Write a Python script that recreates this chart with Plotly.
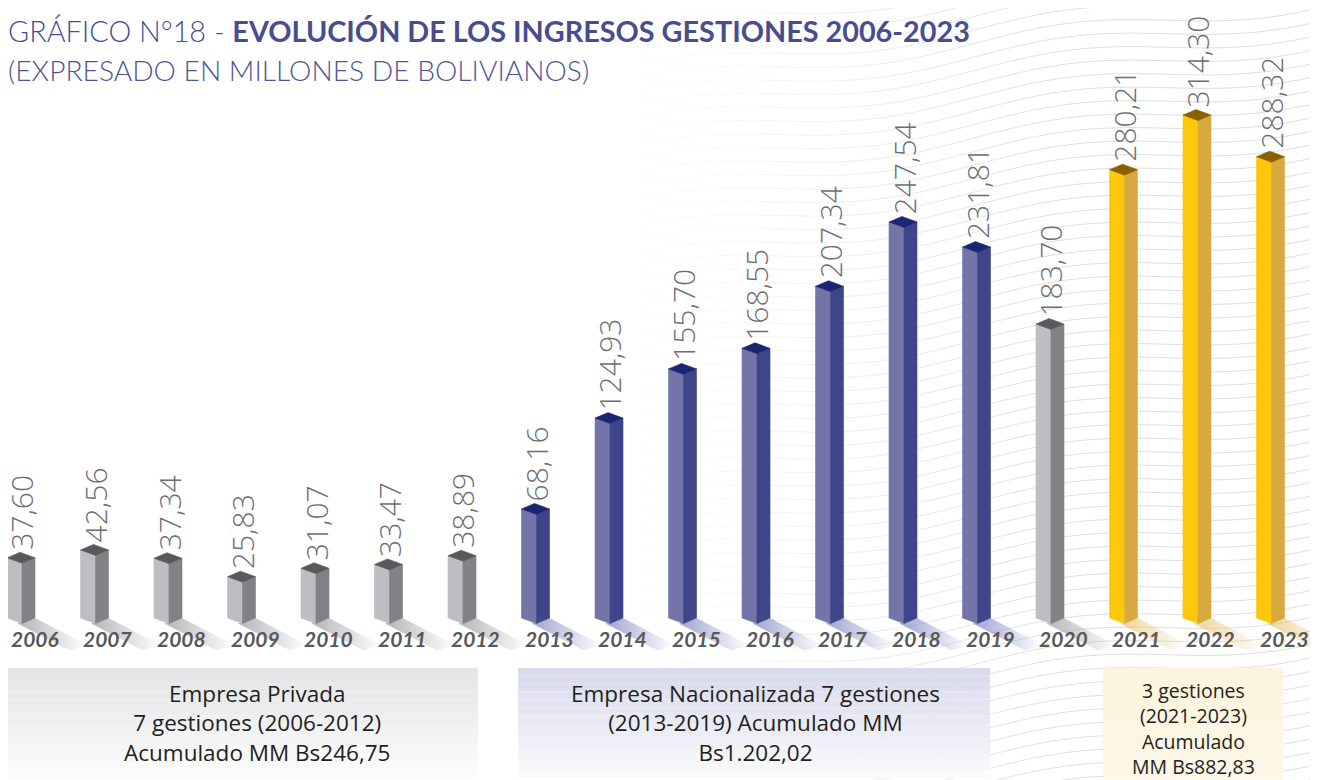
import math
import plotly.graph_objects as go

# ---------------- data ----------------
years = ["2006", "2007", "2008", "2009", "2010", "2011", "2012", "2013", "2014",
         "2015", "2016", "2017", "2018", "2019", "2020", "2021", "2022", "2023"]
values = [37.60, 42.56, 37.34, 25.83, 31.07, 33.47, 38.89, 68.16, 124.93,
          155.70, 168.55, 207.34, 247.54, 231.81, 183.70, 280.21, 314.30, 288.32]
groups = ["gris"] * 7 + ["azul"] * 7 + ["gris"] + ["oro"] * 3

box_texts = [
    ["Empresa Privada", "7 gestiones (2006-2012)", "Acumulado MM Bs246,75"],
    ["Empresa Nacionalizada 7 gestiones", "(2013-2019) Acumulado MM", "Bs1.202,02"],
    ["3 gestiones", "(2021-2023)", "Acumulado", "MM Bs882,83"],
]

# ---------------- style ----------------
OFF = 8                      # page body margin
W, H = 1318 - OFF, 780 - OFF
palette = {
    "gris": dict(front="#bdbec1", side="#808285", top="#58595b", shadow=(150, 150, 155)),
    "azul": dict(front="#7375a9", side="#3e4589", top="#1b2672", shadow=(120, 126, 190)),
    "oro": dict(front="#fdc70b", side="#d8a93f", top="#8a6000", shadow=(232, 196, 110)),
}
PXX = 73.5          # pixels per category
PXY = 1.6           # pixels per value unit
X0 = -(22 - OFF) / PXX
Y0 = -(H - (618 - OFF)) / PXY
wf = 15 / PXX       # front face width
ws = 13 / PXX       # side face width
d = 5.5 / PXY       # isometric slant
shx, shy = 52 / PXX, 27 / PXY  # shadow offset

fig = go.Figure()

# shadows
for i, (v, g) in enumerate(zip(values, groups)):
    r, gg, b = palette[g]["shadow"]
    xs = [i - wf * 0.3, i + ws, i + ws + shx, i + shx - wf * 0.3, i - wf * 0.3]
    ys = [-d, 0, -shy, -d - shy, -d]
    fig.add_trace(go.Scatter(
        x=xs, y=ys, mode="lines", fill="toself", line=dict(width=0),
        fillgradient=dict(type="horizontal",
                          colorscale=[[0, f"rgba({r},{gg},{b},0.7)"],
                                      [1, f"rgba({r},{gg},{b},0.0)"]]),
        hoverinfo="skip", showlegend=False))

# bars as isometric prisms
for i, (v, g) in enumerate(zip(values, groups)):
    p = palette[g]
    faces = [
        ([i - wf, i - wf, i, i, i - wf], [0, v, v - d, -d, 0], p["front"]),
        ([i, i, i + ws, i + ws, i], [-d, v - d, v, 0, -d], p["side"]),
        ([i - wf, i, i + ws, i - wf + ws, i - wf], [v, v - d, v, v + d, v], p["top"]),
    ]
    for xs, ys, c in faces:
        fig.add_trace(go.Scatter(
            x=xs, y=ys, mode="lines", fill="toself", fillcolor=c,
            line=dict(width=0.6, color=c), hoverinfo="skip", showlegend=False))

annotations = []
# value labels
for i, v in enumerate(values):
    annotations.append(dict(
        x=i, y=v + d, xref="x", yref="y", text=f"{v:.2f}".replace(".", ","),
        textangle=-90, xanchor="center", yanchor="bottom", yshift=1, showarrow=False,
        borderpad=0,
        font=dict(family="Open Sans", size=30, color="#6d6e71", weight=300)))
# year labels
for i, yr in enumerate(years):
    annotations.append(dict(
        x=i + 0.17, y=-20 / PXY, xref="x", yref="y", text=yr, showarrow=False,
        xanchor="center", yanchor="middle",
        font=dict(family="Lato", size=21, color="#58595b", weight=700, style="italic")))


def py(px):
    return 1 - (px - OFF) / H


def pxx(px):
    return (px - OFF) / W


# title
annotations.append(dict(
    x=pxx(6), y=py(31), xref="paper", yref="paper", xanchor="left", yanchor="middle",
    showarrow=False,
    text="GRÁFICO N°18 - <b>EVOLUCIÓN DE LOS INGRESOS GESTIONES 2006-2023</b>",
    font=dict(family="Lato", size=28.8, color="#474d90", weight=300)))
annotations.append(dict(
    x=pxx(6), y=py(70), xref="paper", yref="paper", xanchor="left", yanchor="middle",
    showarrow=False, text="(EXPRESADO EN MILLONES DE BOLIVIANOS)",
    font=dict(family="Lato", size=28.2, color="#4f5595", weight=300)))

shapes = []
# background wavy lines (decoration)
for k in range(70):
    base = -60 + k * 13.5
    seg_w = 40
    for s in range(int((1318 - 600) / seg_w) + 1):
        xa = 600 + s * seg_w
        xb = min(xa + seg_w, 1318)
        alpha = max(0.0, min(1.0, (xa - 600) / 450)) * 0.5
        if alpha <= 0.02 or xb <= xa:
            continue
        pts = []
        for t in range(9):
            xx = xa + (xb - xa) * t / 8
            yy = base - (xx - 600) * 0.12 + 9 * math.sin(xx / 62.0)
            pts.append((pxx(xx), py(yy)))
        path = "M " + " L ".join(f"{a:.5f},{b:.5f}" for a, b in pts)
        shapes.append(dict(type="path", path=path, xref="paper", yref="paper",
                           line=dict(color=f"rgba(190,190,190,{alpha:.2f})", width=1),
                           layer="below"))


# bottom boxes with vertical gradient
def grad_box(x0, x1, y0, y1, ctop, cbot, n=14):
    for j in range(n):
        t = j / (n - 1)
        c = tuple(int(ctop[q] + (cbot[q] - ctop[q]) * t) for q in range(3))
        ya = y0 + (y1 - y0) * j / n
        yb = y0 + (y1 - y0) * (j + 1) / n
        shapes.append(dict(type="rect", xref="paper", yref="paper",
                           x0=pxx(max(x0, OFF)), x1=pxx(x1), y0=py(ya), y1=py(yb),
                           line=dict(width=0), fillcolor=f"rgb{c}", layer="below"))


grad_box(0, 478, 668, 778, (228, 229, 231), (252, 252, 252))
grad_box(518, 990, 668, 778, (217, 219, 236), (250, 250, 252))
grad_box(1103, 1283, 668, 780, (252, 244, 220), (253, 248, 232))

box_layout = [(257, 723, 22.5), (755, 723, 22.5), (1193, 728, 19.5)]
for (cx, cy, fs), lines in zip(box_layout, box_texts):
    annotations.append(dict(
        x=pxx(cx), y=py(cy), xref="paper", yref="paper", xanchor="center",
        yanchor="middle", showarrow=False, text="<br>".join(lines), borderpad=0,
        align="center",
        font=dict(family="Open Sans", size=fs, color="#231f20")))

fig.update_layout(
    width=W, height=H, margin=dict(l=0, r=0, t=0, b=0),
    paper_bgcolor="white", plot_bgcolor="rgba(0,0,0,0)",
    xaxis=dict(range=[X0, X0 + W / PXX], visible=False, fixedrange=True),
    yaxis=dict(range=[Y0, Y0 + H / PXY], visible=False, fixedrange=True),
    annotations=annotations, shapes=shapes, showlegend=False,
)
fig.write_html("out.html")
